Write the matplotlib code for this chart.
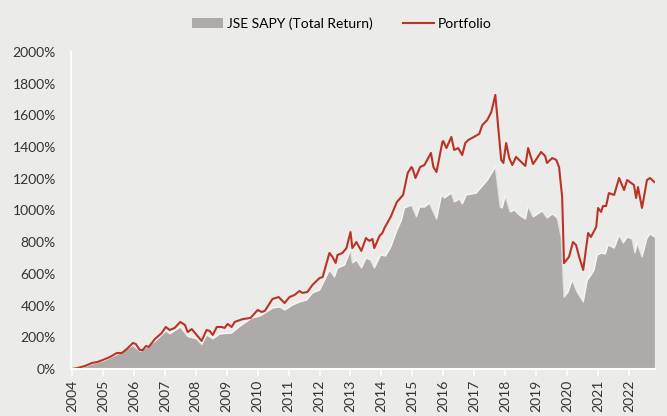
import numpy as np
import matplotlib.pyplot as plt

# values (decimal year, cumulative return %)
port_x = [2004.00, 2004.17, 2004.42, 2004.65, 2004.82, 2005.00, 2005.23, 2005.45, 2005.61, 2005.77,
          2005.97, 2006.06, 2006.19, 2006.29, 2006.39, 2006.48, 2006.68, 2006.90, 2007.03, 2007.16,
          2007.32, 2007.50, 2007.65, 2007.74, 2007.87, 2008.03, 2008.19, 2008.35, 2008.45, 2008.55,
          2008.68, 2008.84, 2008.93, 2009.03, 2009.16, 2009.26, 2009.52, 2009.77, 2010.00, 2010.13,
          2010.23, 2010.48, 2010.68, 2010.87, 2011.03, 2011.19, 2011.35, 2011.45, 2011.61, 2011.77,
          2012.00, 2012.10, 2012.32, 2012.42, 2012.52, 2012.58, 2012.74, 2012.87, 2013.00, 2013.06,
          2013.19, 2013.35, 2013.50, 2013.61, 2013.71, 2013.77, 2013.94, 2014.03, 2014.10, 2014.30,
          2014.50, 2014.70, 2014.85, 2014.97, 2015.00, 2015.10, 2015.25, 2015.39, 2015.60, 2015.68,
          2015.78, 2015.97, 2016.00, 2016.10, 2016.26, 2016.35, 2016.48, 2016.61, 2016.71, 2016.81,
          2017.16, 2017.26, 2017.42, 2017.55, 2017.68, 2017.87, 2017.94, 2018.03, 2018.13, 2018.23,
          2018.35, 2018.52, 2018.65, 2018.74, 2018.90, 2019.03, 2019.16, 2019.29, 2019.35, 2019.52,
          2019.65, 2019.74, 2019.84, 2019.90, 2020.06, 2020.19, 2020.29, 2020.39, 2020.52, 2020.68,
          2020.77, 2020.94, 2021.00, 2021.10, 2021.16, 2021.26, 2021.35, 2021.52, 2021.68, 2021.84,
          2021.94, 2022.16, 2022.23, 2022.29, 2022.42, 2022.58, 2022.68, 2022.82]
port_y = [0, 6, 19, 38, 44, 57, 76, 101, 101, 126,
          164, 158, 120, 120, 145, 139, 189, 227, 265, 246,
          259, 297, 278, 233, 252, 215, 177, 246, 240, 215,
          265, 265, 259, 284, 265, 297, 315, 322, 372, 360,
          366, 442, 454, 416, 454, 467, 492, 480, 486, 530,
          574, 580, 732, 707, 669, 719, 732, 763, 864, 763,
          801, 745, 826, 808, 820, 763, 840, 858, 890, 960,
          1054, 1098, 1237, 1274, 1268, 1205, 1274, 1287, 1363, 1274,
          1243, 1432, 1438, 1394, 1464, 1382, 1394, 1350, 1426, 1445,
          1483, 1539, 1571, 1621, 1729, 1319, 1300, 1426, 1331, 1287,
          1338, 1306, 1281, 1394, 1293, 1331, 1369, 1344, 1300, 1331,
          1319, 1274, 1085, 668, 707, 801, 782, 707, 625, 858,
          833, 896, 1016, 991, 1028, 1028, 1110, 1098, 1205, 1129,
          1192, 1161, 1079, 1148, 1016, 1192, 1205, 1180]

sapy_x = [2004.00, 2004.42, 2004.65, 2005.00, 2005.45, 2005.97, 2006.19, 2006.39, 2006.68, 2007.03,
          2007.16, 2007.50, 2007.74, 2008.03, 2008.19, 2008.35, 2008.55, 2008.77, 2009.16, 2009.39,
          2009.81, 2010.06, 2010.23, 2010.48, 2010.71, 2010.87, 2011.13, 2011.35, 2011.58, 2011.77,
          2012.00, 2012.16, 2012.32, 2012.48, 2012.58, 2012.81, 2013.00, 2013.06, 2013.19, 2013.35,
          2013.50, 2013.65, 2013.77, 2013.97, 2014.13, 2014.30, 2014.50, 2014.65, 2014.74, 2014.97,
          2015.13, 2015.23, 2015.39, 2015.55, 2015.78, 2015.94, 2016.03, 2016.26, 2016.35, 2016.52,
          2016.61, 2016.74, 2017.06, 2017.23, 2017.42, 2017.68, 2017.84, 2017.90, 2018.00, 2018.16,
          2018.29, 2018.45, 2018.65, 2018.74, 2018.90, 2019.19, 2019.35, 2019.52, 2019.68, 2019.81,
          2019.90, 2020.03, 2020.16, 2020.32, 2020.52, 2020.65, 2020.77, 2020.87, 2020.97, 2021.10,
          2021.23, 2021.32, 2021.52, 2021.68, 2021.81, 2021.94, 2022.10, 2022.19, 2022.26, 2022.42,
          2022.58, 2022.68, 2022.82]
sapy_y = [0, 15, 32, 50, 92, 150, 112, 135, 175, 240,
          222, 265, 205, 190, 155, 215, 190, 221, 227, 265,
          322, 334, 353, 385, 391, 372, 404, 423, 435, 480,
          498, 561, 625, 580, 637, 656, 751, 669, 688, 637,
          700, 688, 637, 719, 713, 770, 877, 940, 1016, 1035,
          960, 1022, 1022, 1047, 946, 1098, 1079, 1110, 1054, 1073,
          1041, 1098, 1110, 1148, 1192, 1274, 1022, 1016, 1092, 991,
          1003, 972, 946, 1028, 960, 997, 953, 978, 953, 833,
          454, 486, 561, 486, 423, 561, 593, 625, 719, 732,
          725, 782, 763, 845, 795, 833, 820, 732, 795, 707,
          826, 852, 833]

years = list(range(2004, 2023))
yticks = list(range(0, 2001, 200))

bg = '#EBEBE9'
plt.rcParams['font.family'] = ['Lato', 'DejaVu Sans']

fig = plt.figure(figsize=(6.67, 4.16), dpi=100, facecolor=bg)
ax = fig.add_axes([0.1065, 0.113, 0.8755, 0.762], facecolor=bg)

ax.fill_between(sapy_x, sapy_y, 0, color='#AEAAA9', lw=0, label='JSE SAPY (Total Return)')
ax.plot(sapy_x, sapy_y, color='white', lw=1.0, alpha=0.6)
ax.plot(port_x, port_y, color='#BB3326', lw=1.5, label='Portfolio')

ax.set_xlim(2003.97, 2022.84)
ax.set_ylim(0, 2000)
ax.set_xticks(years)
ax.set_xticklabels([str(y) for y in years], rotation=90, fontsize=10, color='#333333')
ax.set_yticks(yticks)
ax.set_yticklabels([f'{v}%' for v in yticks], fontsize=10, color='#333333')
ax.tick_params(axis='x', direction='out', length=5, width=1.2, color='white', pad=3)
ax.tick_params(axis='y', length=0, pad=11)

for s in ['top', 'right']:
    ax.spines[s].set_visible(False)
for s in ['left', 'bottom']:
    ax.spines[s].set_color('white')
    ax.spines[s].set_linewidth(1.5)

ax.legend(loc='upper center', bbox_to_anchor=(0.464, 1.148), ncol=2, frameon=False,
          fontsize=10, handlelength=2.2, columnspacing=2.2, handletextpad=0.3)

fig.savefig('out.png', dpi=100, facecolor=bg)
